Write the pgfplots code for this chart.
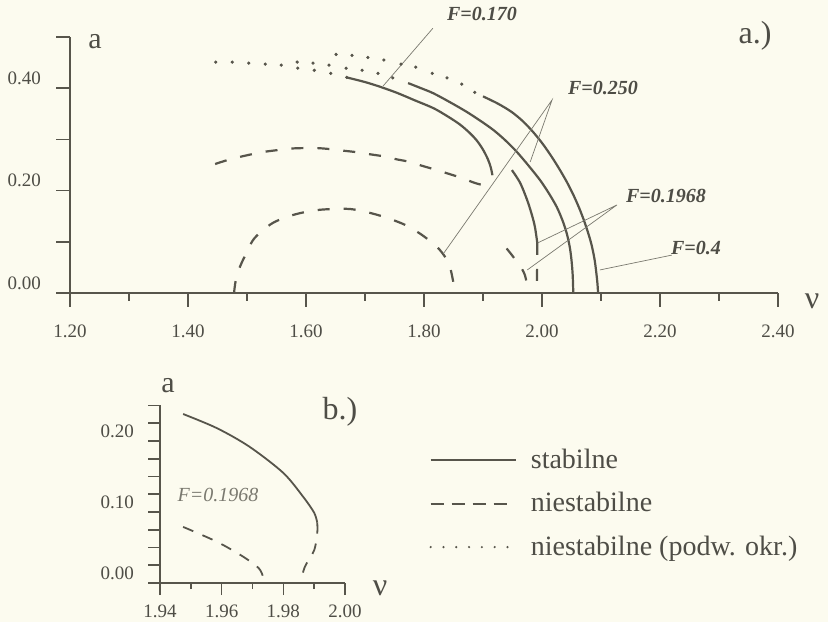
\documentclass[border=0pt]{standalone}
\usepackage{pgfplots}
\pgfplotsset{compat=1.18}
\usepackage{fontspec}
\setmainfont{Liberation Serif}
\definecolor{paper}{HTML}{FCFBEF}
\definecolor{ink}{HTML}{57554B}
\definecolor{inktext}{HTML}{4E4D46}
\definecolor{leader}{HTML}{7A796F}

\tikzset{
  stab/.style={ink, line width=1.1pt, smooth, tension=0.5},
  unst/.style={ink, line width=1.1pt, dash pattern=on 6pt off 7pt, smooth, tension=0.5},
  dbl/.style={ink, only marks, mark=*, mark size=0.6pt},
  annot/.style={leader, line width=0.35pt},
}
\pgfplotsset{
  frame/.style={
    scale only axis, clip=false, enlargelimits=false,
    axis lines=left, axis line style={-, ink, line width=0.9pt},
    every outer x axis line/.append style={-},
    every outer y axis line/.append style={-},
    tick align=outside,
    tick style={ink, line width=0.8pt},
    ticklabel style={text=inktext},
  },
  shortline/.style={legend image code/.code={\draw[##1] (0pt,0pt) -- (38pt,0pt);}},
}

\begin{document}
\begin{tikzpicture}[x=1pt,y=1pt]
\fill[paper] (0pt,0pt) rectangle (414pt,311pt);

% ---------------- a.) ----------------
\begin{axis}[frame,
  at={(35pt,164.5pt)}, anchor=south west, width=354pt, height=128pt,
  xmin=1.2, xmax=2.4, ymin=0, ymax=0.5,
  major tick length=7pt, minor tick length=4pt,
  xtick={1.2,1.4,1.6,1.8,2.0,2.2,2.4},
  xticklabels={1.20,1.40,1.60,1.80,2.00,2.20,2.40},
  minor xtick={1.3,1.5,1.7,1.9,2.1,2.3},
  ytick={0,0.1,0.2,0.3,0.4,0.5},
  yticklabels={0.00,,0.20,,0.40,},
  ticklabel style={font=\fontsize{9.5}{10}\selectfont},
  yticklabel style={yshift=5pt, xshift=-4pt},
  xticklabel style={yshift=-5.5pt},
]
% F=0.250, lower unstable branch
\addplot[unst] coordinates {
 (1.478,0) (1.481,0.025) (1.488,0.051) (1.498,0.076) (1.510,0.103) (1.525,0.121)
 (1.544,0.137) (1.566,0.148) (1.590,0.156) (1.619,0.162) (1.646,0.164) (1.675,0.164)
 (1.703,0.158) (1.734,0.148) (1.768,0.133) (1.797,0.113) (1.822,0.090) (1.836,0.070)
 (1.844,0.051) (1.849,0.025) (1.853,0)};
% F=0.170, unstable branch
\addplot[unst] coordinates {
 (1.446,0.252) (1.471,0.261) (1.500,0.269) (1.525,0.275) (1.551,0.279) (1.573,0.282)
 (1.595,0.283) (1.619,0.283) (1.641,0.281) (1.663,0.278) (1.686,0.275) (1.708,0.271)
 (1.731,0.267) (1.754,0.261) (1.776,0.256) (1.798,0.248) (1.822,0.240) (1.844,0.232)
 (1.866,0.224) (1.886,0.215) (1.903,0.211) (1.914,0.219)};
% F=0.170, stable branch
\addplot[stab] coordinates {
 (1.669,0.421) (1.700,0.412) (1.725,0.403) (1.754,0.391) (1.785,0.376) (1.816,0.361)
 (1.840,0.345) (1.861,0.329) (1.878,0.312) (1.890,0.297) (1.900,0.280) (1.908,0.262)
 (1.913,0.246) (1.916,0.230)};
% F=0.250, stable branch
\addplot[stab] coordinates {
 (1.773,0.410) (1.795,0.400) (1.816,0.390) (1.845,0.372) (1.872,0.354) (1.896,0.336)
 (1.918,0.318) (1.938,0.298) (1.957,0.276) (1.977,0.249) (1.997,0.220) (2.012,0.194)
 (2.025,0.168) (2.035,0.141) (2.042,0.116) (2.047,0.090) (2.050,0.064) (2.052,0.035)
 (2.053,0)};
% F=0.4, stable branch
\addplot[stab] coordinates {
 (1.900,0.384) (1.925,0.370) (1.948,0.354) (1.968,0.335) (1.986,0.313) (2.002,0.290)
 (2.017,0.265) (2.030,0.241) (2.042,0.217) (2.053,0.192) (2.063,0.166) (2.071,0.142)
 (2.078,0.118) (2.084,0.094) (2.089,0.066) (2.092,0.040) (2.094,0.018) (2.095,0)};
% F=0.1968
\addplot[stab] coordinates {
 (1.949,0.240) (1.963,0.215) (1.975,0.181) (1.983,0.152) (1.988,0.129) (1.992,0.098)};
\addplot[unst] coordinates {
 (1.992,0.098) (1.992,0.064) (1.9915,0.035) (1.991,0)};
\addplot[unst] coordinates {
 (1.940,0.087) (1.949,0.074) (1.958,0.060) (1.966,0.047) (1.971,0.035) (1.974,0.018) (1.974,0)};
% period-doubled unstable solutions
\addplot[dbl] coordinates {
 (1.447,0.451) (1.475,0.451) (1.503,0.449) (1.531,0.447) (1.558,0.445) (1.586,0.439)
 (1.614,0.435) (1.642,0.429) (1.669,0.421)};
\addplot[dbl] coordinates {
 (1.585,0.451) (1.612,0.449) (1.639,0.445) (1.668,0.439) (1.695,0.435) (1.722,0.429)
 (1.747,0.420)};
\addplot[dbl] coordinates {
 (1.651,0.466) (1.678,0.464) (1.705,0.460) (1.732,0.455) (1.761,0.447) (1.786,0.441)
 (1.814,0.429) (1.839,0.420) (1.864,0.408) (1.886,0.392)};
% leaders
\draw[annot] (axis cs:1.815,0.517) -- (axis cs:1.7305,0.404);
\draw[annot] (axis cs:1.833,0.077) -- (axis cs:2.017,0.377) -- (axis cs:1.980,0.256);
\draw[annot] (axis cs:1.993,0.098) -- (axis cs:2.127,0.172) -- (axis cs:1.975,0.045);
\draw[annot] (axis cs:2.098,0.045) -- (axis cs:2.220,0.074);
\end{axis}

% ---------------- b.) ----------------
\begin{axis}[frame,
  at={(80pt,19.5pt)}, anchor=south west, width=92.5pt, height=88.75pt,
  xmin=1.94, xmax=2.0, ymin=0, ymax=0.25,
  major tick length=6pt, minor tick length=3pt,
  xtick={1.94,1.96,1.98,2.00},
  xticklabels={1.94,1.96,1.98,2.00},
  minor xtick={1.95,1.97,1.99},
  ytick={0,0.025,0.05,0.075,0.1,0.125,0.15,0.175,0.2,0.225,0.25},
  yticklabels={0.00,,,,0.10,,,,0.20,,},
  ticklabel style={font=\fontsize{9.5}{10}\selectfont},
  yticklabel style={yshift=5pt, xshift=-3.5pt},
  xticklabel style={yshift=-1.5pt},
  legend image code/.code={\draw[#1] (0pt,0pt) -- (42.5pt,0pt);},
  legend style={at={(1.422,0.802)}, anchor=north west, draw=none, fill=none,
    font=\fontsize{14}{16}\selectfont, text=inktext, row sep=6.5pt, column sep=5pt,
    cells={anchor=west}},
]
\addlegendimage{ink, line width=0.9pt}
\addlegendentry{stabilne}
\addlegendimage{ink, line width=0.9pt, dash pattern=on 6.5pt off 4pt, shortline}
\addlegendentry{niestabilne}
\addlegendimage{ink, line width=1.2pt, line cap=round, dash pattern=on 0pt off 6.4pt}
\addlegendentry{niestabilne (podw. okr.)}

\addplot[ink, line width=0.9pt, smooth, tension=0.5, forget plot] coordinates {
 (1.9475,0.238) (1.9585,0.218) (1.969,0.192) (1.980,0.155) (1.9865,0.121) (1.990,0.099)
 (1.991,0.085)};
\addplot[ink, line width=0.9pt, dash pattern=on 5.5pt off 5pt, smooth, tension=0.5, forget plot] coordinates {
 (1.991,0.085) (1.991,0.070) (1.990,0.046) (1.987,0.023) (1.9855,0)};
\addplot[ink, line width=0.9pt, dash pattern=on 5.5pt off 5pt, smooth, tension=0.5, forget plot] coordinates {
 (1.9475,0.079) (1.9585,0.058) (1.967,0.037) (1.972,0.021) (1.9735,0.008) (1.974,0)};
\end{axis}

% titles and labels
\begin{scope}[inktext]
\node[font=\fontsize{15}{17}\selectfont] at (47.5pt,290pt) {a};
\node[font=\fontsize{16}{18}\selectfont] at (377.5pt,293pt) {a.)};
\node[font=\fontsize{16}{18}\selectfont] at (406pt,160.5pt) {ν};
\node[font=\fontsize{10}{12}\selectfont\bfseries\itshape] at (241pt,304pt) {F=0.170};
\node[font=\fontsize{10}{12}\selectfont\bfseries\itshape] at (301.5pt,267pt) {F=0.250};
\node[font=\fontsize{10}{12}\selectfont\bfseries\itshape] at (333pt,213pt) {F=0.1968};
\node[font=\fontsize{10}{12}\selectfont\bfseries\itshape] at (348pt,187pt) {F=0.4};
\node[font=\fontsize{15}{17}\selectfont] at (84pt,118pt) {a};
\node[font=\fontsize{16}{18}\selectfont] at (170pt,105pt) {b.)};
\node[font=\fontsize{10}{12}\selectfont\itshape, text=leader] at (109pt,63.5pt) {F=0.1968};
\node[font=\fontsize{16}{18}\selectfont] at (190pt,17pt) {ν};
\end{scope}
\end{tikzpicture}
\end{document}
